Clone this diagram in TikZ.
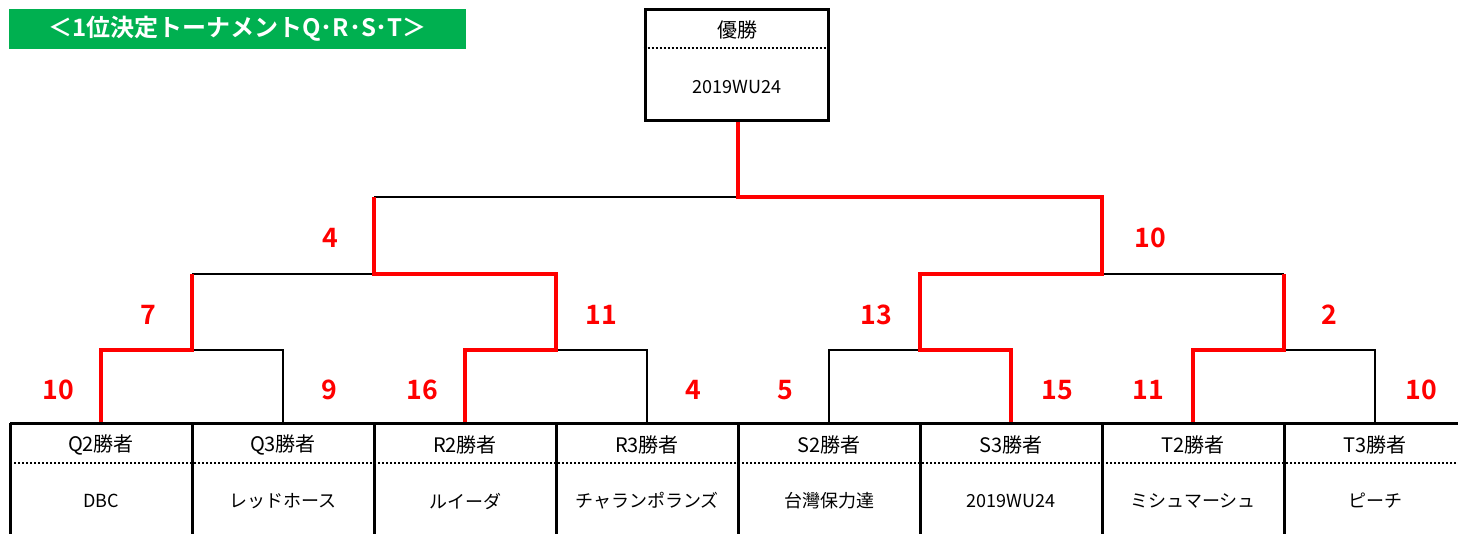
\documentclass[tikz,border=0pt]{standalone}
\usepackage{fontspec}
\newfontfamily\jp{Noto Sans CJK JP}[BoldFont={Noto Sans CJK JP Bold}]
\definecolor{xlgreen}{RGB}{0,176,80}
\begin{document}
\begin{tikzpicture}[x=0.75pt,y=-0.75pt,
 winline/.style={draw=red,line width=3pt,line join=miter},
 loseline/.style={draw=black,line width=0.8pt},
 boxframe/.style={draw=black,line width=2.25pt},
 dotline/.style={draw=black,line width=1.6pt,dash pattern=on 1.5pt off 1.5pt},
 scoretext/.style={text=red,font=\jp\bfseries\fontsize{20}{20}\selectfont,inner sep=0},
 hdtext/.style={font=\jp\fontsize{15}{15}\selectfont,inner sep=0},
 tmtext/.style={font=\jp\fontsize{13.5}{13.5}\selectfont,inner sep=0}]
\useasboundingbox (0,0) rectangle (1458,533);
% title
\node[fill=xlgreen,inner sep=0,minimum width=342.75pt,minimum height=30pt,text=white,font=\jp\bfseries\fontsize{18}{18}\selectfont] (title) at (237.5,29) {＜1位決定トーナメントQ･R･S･T＞};
% champion box
\node[boxframe,inner sep=0,minimum width=137.25pt,minimum height=83.25pt] (champ) at (736.5,64.5) {};
\draw[dotline] (champ.west|-0,48) -- (champ.east|-0,48);
\node[hdtext] (champt) at (737,30) {優勝};
\node[tmtext] (champn) at (737,87) {2019WU24};
% coordinates
\foreach \i/\x in {1/101,2/283,3/465,4/647,5/829,6/1011,7/1193,8/1375}
  \coordinate (L\i) at (\x,423);
\coordinate (A1) at (192,350);
\coordinate (A2) at (556,350);
\coordinate (A3) at (920,350);
\coordinate (A4) at (1284,350);
\coordinate (B1) at (374,274);
\coordinate (B2) at (1102,274);
\coordinate (C) at (738,197);
% losing lines
\draw[loseline] (A1) -| (L2);
\draw[loseline] (A2) -| (L4);
\draw[loseline] (A3) -| (L5);
\draw[loseline] (A4) -| (L8);
\draw[loseline] (A1|-B1) -- (B1);
\draw[loseline] (A4|-B2) -- (B2);
\draw[loseline] (B1|-C) -- (C);
% winning lines
\draw[winline] (L1) |- (A1) -- (A1|-B1);
\draw[winline] (L3) |- (A2) -- (A2|-B1) -- (B1) -- (B1|-C);
\draw[winline] (L7) |- (A4) -- (A4|-B2);
\draw[winline] (L6) |- (A3) -- (A3|-B2) -- (B2) -- (B2|-C) -- (C) -- (C|-champ.south);
% scores
\node[scoretext] (s1) at (58,390) {10};
\node[scoretext] (s2) at (329,390) {9};
\node[scoretext] (s3) at (422,390) {16};
\node[scoretext] (s4) at (693,390) {4};
\node[scoretext] (s5) at (785,390) {5};
\node[scoretext] (s6) at (1057,390) {15};
\node[scoretext] (s7) at (1148,390) {11};
\node[scoretext] (s8) at (1421,390) {10};
\node[scoretext] (t1) at (148,315) {7};
\node[scoretext] (t2) at (601,315) {11};
\node[scoretext] (t3) at (876,315) {13};
\node[scoretext] (t4) at (1329,315) {2};
\node[scoretext] (u1) at (330,238) {4};
\node[scoretext] (u2) at (1150,238) {10};
% bottom table
\draw[boxframe] (10,423) -- (1460,423);
\foreach \x in {10,192,374,556,738,920,1102,1284}
  \draw[boxframe] (\x,423) -- (\x,535);
\draw[dotline] (10,463) -- (1460,463);
\foreach \i/\x/\h/\n in {1/101/Q2勝者/DBC,2/283/Q3勝者/レッドホース,3/465/R2勝者/ルイーダ,4/647/R3勝者/チャランポランズ,5/829/S2勝者/台灣保力達,6/1011/S3勝者/2019WU24,7/1193/T2勝者/ミシュマーシュ,8/1375/T3勝者/ピーチ}{
  \node[hdtext] (h\i) at (\x,445) {\h};
  \node[tmtext] (n\i) at (\x,501) {\n};
}
\end{tikzpicture}
\end{document}
